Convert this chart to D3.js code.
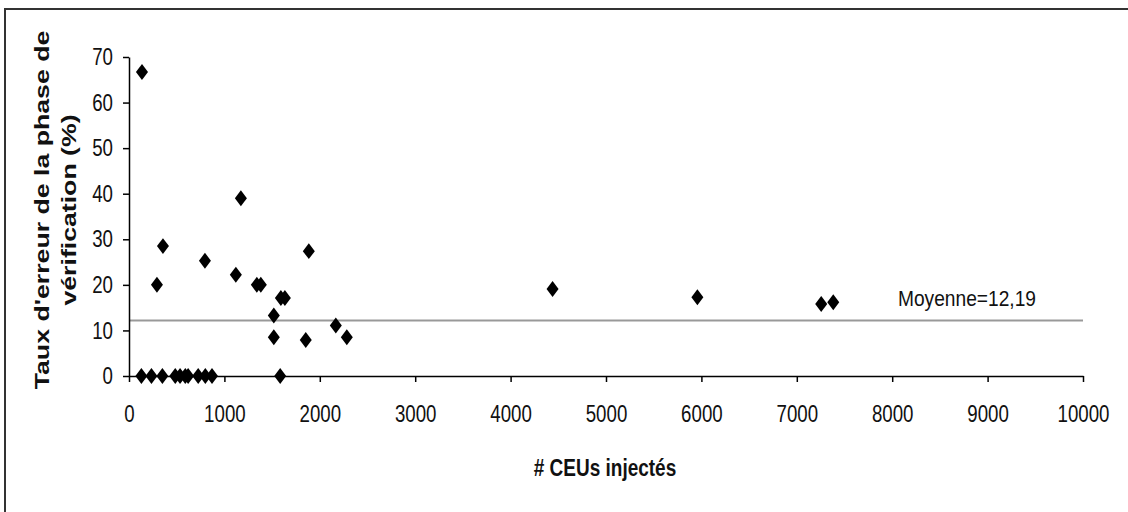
<!DOCTYPE html>
<html lang="fr">

<head>
    <meta charset="UTF-8">
    <title>Taux d'erreur de la phase de vérification</title>
    <script src="https://d3js.org/d3.v7.min.js"></script>
    <style>
        body {
            margin: 0;
            background-color: white;
        }

        svg {
            display: block;
            font-family: "Liberation Sans", Arial, sans-serif;
        }
    </style>
</head>

<body>
    <svg id="chart" width="1128" height="512"></svg>
    <script>
        // Data
        const ceusInjectes = [130, 235, 350, 485, 535, 590, 620, 725, 800, 870, 1585,
            136, 293, 356, 796, 1120, 1173, 1340, 1382, 1518, 1518, 1592, 1634,
            1853, 1885, 2168, 2283, 4440, 5958, 7256, 7382];
        const tauxErreur = [0, 0, 0, 0, 0, 0, 0, 0, 0, 0, 0,
            66.7, 20, 28.5, 25.3, 22.2, 39, 20, 20, 13.3, 8.5, 17.1, 17.1,
            7.9, 27.4, 11.1, 8.5, 19.1, 17.3, 15.8, 16.2];
        const moyenne = 12.19;
        const xTicks = [0, 1000, 2000, 3000, 4000, 5000, 6000, 7000, 8000, 9000, 10000];
        const yTicks = [0, 10, 20, 30, 40, 50, 60, 70];

        const points = ceusInjectes.map((v, i) => ({ x: v, y: tauxErreur[i] }));

        // the original picture is stretched vertically, so text is too
        const stretch = 1.27;

        const svg = d3.select("#chart");

        // outer frame (only top and left edges visible)
        svg.append("path")
            .attr("d", "M5,512V9H1128")
            .attr("fill", "none")
            .attr("stroke", "#333")
            .attr("stroke-width", 2);

        const x = d3.scaleLinear().domain([0, 10000]).range([129, 1083]);
        const y = d3.scaleLinear().domain([0, 70]).range([376, 57]);

        // mean line
        svg.append("line")
            .attr("x1", x(0))
            .attr("x2", x(10000))
            .attr("y1", y(moyenne))
            .attr("y2", y(moyenne))
            .attr("stroke", "#999")
            .attr("stroke-width", 2);

        svg.append("text")
            .attr("transform", `translate(898,${y(moyenne) - 14}) scale(1,${stretch})`)
            .attr("font-size", 18)
            .attr("textLength", 138)
            .attr("lengthAdjust", "spacingAndGlyphs")
            .attr("fill", "#111")
            .text("Moyenne=" + d3.format(".2f")(moyenne).replace(".", ","));

        // X axis
        const xAxis = svg.append("g")
            .attr("transform", `translate(0,${y(0)})`)
            .call(d3.axisBottom(x).tickValues(xTicks).tickSize(6).tickSizeOuter(0).tickFormat(d3.format("d")));
        xAxis.selectAll("text")
            .attr("y", 0)
            .attr("dy", "0.71em")
            .attr("transform", `translate(0,29) scale(1,${stretch})`)
            .attr("font-size", 18.7)
            .attr("font-family", "Liberation Sans, Arial, sans-serif")
            .attr("fill", "#111");

        // Y axis
        const yAxis = svg.append("g")
            .attr("transform", `translate(${x(0)},0)`)
            .call(d3.axisLeft(y).tickValues(yTicks).tickSize(6).tickSizeOuter(0));
        yAxis.selectAll("text")
            .attr("x", 0)
            .attr("dy", "0.32em")
            .attr("transform", `translate(-16,0) scale(1,${stretch})`)
            .attr("font-size", 18.7)
            .attr("font-family", "Liberation Sans, Arial, sans-serif")
            .attr("fill", "#111");

        svg.selectAll(".domain, .tick line")
            .attr("stroke", "#000")
            .attr("stroke-width", 1.5);

        // axis titles
        svg.append("text")
            .attr("transform", `translate(605,476) scale(1,${stretch})`)
            .attr("text-anchor", "middle")
            .attr("font-size", 19)
            .attr("font-weight", "bold")
            .attr("fill", "#111")
            .text("# CEUs injectés");

        const yTitle = ["Taux d'erreur de la phase de", "vérification (%)"];
        svg.append("g")
            .selectAll("text")
            .data(yTitle)
            .join("text")
            .attr("transform", (d, i) => `translate(${49 + i * 27},210) rotate(-90) scale(${stretch},1)`)
            .attr("text-anchor", "middle")
            .attr("font-size", 21)
            .attr("font-weight", "bold")
            .attr("fill", "#111")
            .text(d => d);

        // diamonds
        const diamond = d3.symbol().type(d3.symbolDiamond2).size(92);
        svg.append("g")
            .selectAll("path")
            .data(points)
            .join("path")
            .attr("d", diamond)
            .attr("transform", d => `translate(${x(d.x)},${y(d.y)}) scale(1,1.33)`)
            .attr("fill", "#000");
    </script>
</body>

</html>
